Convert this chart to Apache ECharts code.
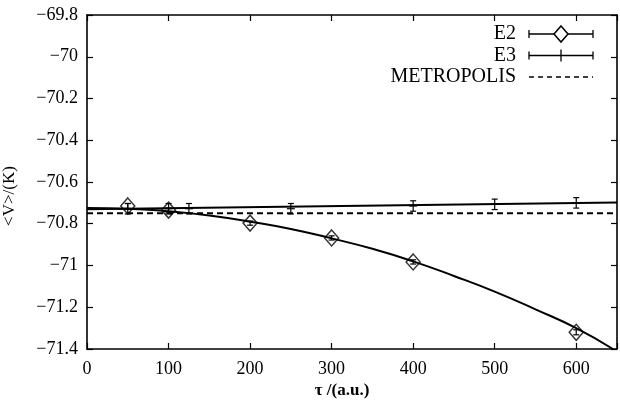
<!DOCTYPE html>
<html><head><meta charset="utf-8">
<script src="https://cdn.jsdelivr.net/npm/echarts@6/dist/echarts.min.js"></script>
<style>html,body{margin:0;padding:0;background:#fff}#c{width:620px;height:400px}</style>
</head><body><div id="c"></div>
<script>
// ---- data ----
const xTickLabels = ['0','100','200','300','400','500','600'];
const e2X   = [50, 100, 200, 300, 400, 600];
const e2Y   = [-70.715, -70.735, -70.797, -70.868, -70.983, -71.32];
const e2Err = [0.012, 0.01, 0.01, 0.01, 0.01, 0.012];
const e3X   = [50, 100, 125, 250, 400, 500, 600];
const e3Y   = [-70.728, -70.728, -70.728, -70.728, -70.715, -70.707, -70.700];
const e3Err = [0.025, 0.025, 0.025, 0.025, 0.025, 0.025, 0.025];
const fitE2X = [0, 50, 100, 150, 200, 250, 300, 350, 400, 450, 500, 550, 600, 645];
const fitE2Y = [-70.725, -70.728, -70.74, -70.76, -70.79, -70.825, -70.87, -70.92, -70.98, -71.05, -71.125, -71.21, -71.30, -71.40];
const fitE3X = [0, 650];
const fitE3Y = [-70.73, -70.698];
const metroX = [0, 650];
const metroY = [-70.75, -70.75];

const FONT = '"Liberation Serif", "DejaVu Serif", serif';
const zip = (a, b, c) => a.map((v, i) => c ? [v, b[i], c[i]] : [v, b[i]]);
const minusFmt = v => {
  const r = Math.round(v * 10) / 10;
  return String(r).replace('-', '\u2212');
};

function errRender(cap, plus) {
  return function (params, api) {
    const x = api.value(0), y = api.value(1), e = api.value(2);
    const c = api.coord([x, y]);
    const t = api.coord([x, y + e]);
    const b = api.coord([x, y - e]);
    const st = { stroke: '#000', lineWidth: 1.2 };
    const ch = [
      { type: 'line', shape: { x1: t[0], y1: t[1], x2: b[0], y2: b[1] }, style: st },
      { type: 'line', shape: { x1: t[0] - cap, y1: t[1], x2: t[0] + cap, y2: t[1] }, style: st },
      { type: 'line', shape: { x1: b[0] - cap, y1: b[1], x2: b[0] + cap, y2: b[1] }, style: st }
    ];
    if (plus) ch.push({ type: 'line', shape: { x1: c[0] - plus, y1: c[1], x2: c[0] + plus, y2: c[1] }, style: st });
    return { type: 'group', children: ch };
  };
}

const chart = echarts.init(document.getElementById('c'), null, { renderer: 'canvas' });
const axisLineStyle = { color: '#000', width: 1.6 };
const xBase = {
  type: 'value', min: 0, max: 650, interval: 100,
  splitLine: { show: false },
  axisLine: { show: true, onZero: false, lineStyle: axisLineStyle },
  axisTick: { show: true, inside: true, length: 6, lineStyle: { color: '#000', width: 1.2 } }
};
const yBase = {
  type: 'value', min: -71.4, max: -69.8, interval: 0.2,
  splitLine: { show: false },
  axisLine: { show: true, onZero: false, lineStyle: axisLineStyle },
  axisTick: { show: true, inside: true, length: 6, lineStyle: { color: '#000', width: 1.2 } }
};

const LX = 516, L1 = 34, L2 = 55.5, L3 = 77, S0 = 529, S1 = 593, SM = 561;

chart.setOption({
  animation: false,
  backgroundColor: '#fff',
  grid: { left: 87, top: 15, right: 3, bottom: 51 },
  xAxis: [
    Object.assign({}, xBase, {
      position: 'bottom',
      axisLabel: {
        color: '#000', fontFamily: FONT, fontSize: 18, margin: 11,
        formatter: v => { const i = Math.round(v / 100); return (v % 100 === 0 && i < xTickLabels.length) ? xTickLabels[i] : ''; }
      }
    }),
    Object.assign({}, xBase, { position: 'top', axisLabel: { show: false } })
  ],
  yAxis: [
    Object.assign({}, yBase, {
      position: 'left',
      axisLabel: { color: '#000', fontFamily: FONT, fontSize: 18, margin: 9, formatter: minusFmt }
    }),
    Object.assign({}, yBase, { position: 'right', axisLabel: { show: false } })
  ],
  series: [
    { name: 'E2 fit', type: 'line', data: zip(fitE2X, fitE2Y), smooth: true, showSymbol: false,
      lineStyle: { color: '#000', width: 2 }, clip: true },
    { name: 'E3 fit', type: 'line', data: zip(fitE3X, fitE3Y), showSymbol: false,
      lineStyle: { color: '#000', width: 2 } },
    { name: 'METROPOLIS', type: 'line', data: zip(metroX, metroY), showSymbol: false,
      lineStyle: { color: '#000', width: 2, type: [6, 4] } },
    { name: 'E3', type: 'custom', renderItem: errRender(3, 4), data: zip(e3X, e3Y, e3Err), z: 5 },
    { name: 'E2 err', type: 'custom', renderItem: errRender(3, 0), data: zip(e2X, e2Y, e2Err), z: 5 },
    { name: 'E2', type: 'scatter', data: zip(e2X, e2Y), symbol: 'diamond', symbolSize: [14, 16],
      itemStyle: { color: 'rgba(0,0,0,0)', borderColor: '#000', borderWidth: 1.5 }, z: 6 }
  ],
  graphic: [
    { type: 'text', x: 10, y: 196, rotation: Math.PI / 2,
      style: { text: '<V>/(K)', font: '17px ' + FONT, fill: '#000', textAlign: 'center', textVerticalAlign: 'middle' } },
    { type: 'text', x: 342, y: 391,
      style: { text: '\u03C4 /(a.u.)', font: 'bold 17px ' + FONT, fill: '#000', textAlign: 'center', textVerticalAlign: 'middle' } },
    // legend
    { type: 'text', x: LX, y: L1, style: { text: 'E2', font: '20px ' + FONT, fill: '#000', textAlign: 'right', textVerticalAlign: 'middle' } },
    { type: 'text', x: LX, y: L2, style: { text: 'E3', font: '20px ' + FONT, fill: '#000', textAlign: 'right', textVerticalAlign: 'middle' } },
    { type: 'text', x: LX, y: L3, style: { text: 'METROPOLIS', font: '20px ' + FONT, fill: '#000', textAlign: 'right', textVerticalAlign: 'middle' } },
    { type: 'line', shape: { x1: S0, y1: L1, x2: S1, y2: L1 }, style: { stroke: '#000', lineWidth: 1.3 } },
    { type: 'line', shape: { x1: S0, y1: L1 - 4, x2: S0, y2: L1 + 4 }, style: { stroke: '#000', lineWidth: 1.3 } },
    { type: 'line', shape: { x1: S1, y1: L1 - 4, x2: S1, y2: L1 + 4 }, style: { stroke: '#000', lineWidth: 1.3 } },
    { type: 'polygon', shape: { points: [[SM, L1 - 8], [SM + 7, L1], [SM, L1 + 8], [SM - 7, L1]] }, style: { stroke: '#000', fill: '#fff', lineWidth: 1.5 } },
    { type: 'line', shape: { x1: S0, y1: L2, x2: S1, y2: L2 }, style: { stroke: '#000', lineWidth: 1.3 } },
    { type: 'line', shape: { x1: S0, y1: L2 - 4, x2: S0, y2: L2 + 4 }, style: { stroke: '#000', lineWidth: 1.3 } },
    { type: 'line', shape: { x1: S1, y1: L2 - 4, x2: S1, y2: L2 + 4 }, style: { stroke: '#000', lineWidth: 1.3 } },
    { type: 'line', shape: { x1: SM, y1: L2 - 6, x2: SM, y2: L2 + 6 }, style: { stroke: '#000', lineWidth: 1.3 } },
    { type: 'line', shape: { x1: S0, y1: L3, x2: S1, y2: L3 }, style: { stroke: '#000', lineWidth: 1.5, lineDash: [5, 4] } }
  ]
});
</script>
</body></html>
